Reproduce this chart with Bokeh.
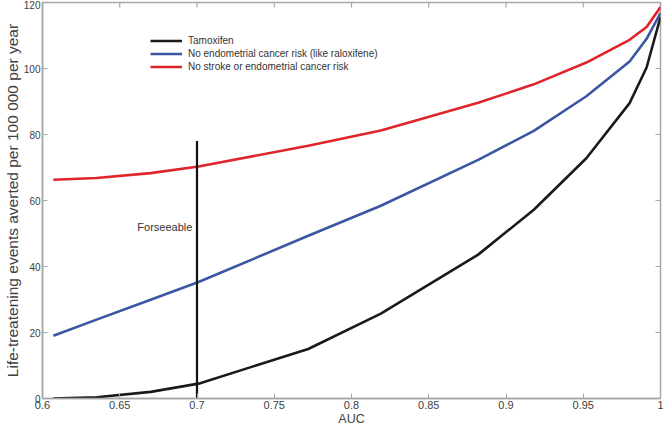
import math
from bokeh.plotting import figure
from bokeh.models import FixedTicker, Legend, LegendItem, ColumnDataSource
from bokeh.core.properties import value
from bokeh.embed import file_html
from bokeh.resources import INLINE

auc = [0.607, 0.635, 0.670, 0.701, 0.772, 0.819, 0.882, 0.918, 0.952, 0.980, 0.991, 1.0]
tamoxifen = [0.0, 0.4, 2.0, 4.5, 15.0, 25.7, 43.6, 57.2, 72.8, 89.5, 100.3, 115.6]
no_endometrial = [19.0, 23.9, 29.9, 35.3, 49.3, 58.4, 72.3, 81.1, 91.6, 102.1, 109.0, 116.8]
no_stroke_endometrial = [66.3, 66.8, 68.3, 70.3, 76.6, 81.2, 89.6, 95.2, 101.8, 108.7, 112.6, 118.6]
series_names = ["Tamoxifen", "No endometrial cancer risk (like raloxifene)", "No stroke or endometrial cancer risk"]

forseeable_x = [0.7, 0.7]
forseeable_y = [0, 78]
forseeable_label = "Forseeable"
forseeable_label_y = 52

x_start, x_end = 0.6, 1.0
y_start, y_end = 0, 120
xticks = [0.6, 0.65, 0.7, 0.75, 0.8, 0.85, 0.9, 0.95, 1.0]
xtick_labels = ["0.6", "0.65", "0.7", "0.75", "0.8", "0.85", "0.9", "0.95", "1"]
yticks = [0, 20, 40, 60, 80, 100, 120]

FONT = "Liberation Sans"
AX_COLOR = "#a6a6a6"
TXT = "#404040"

p = figure(width=663, height=428, x_range=(x_start, x_end), y_range=(y_start, y_end),
           output_backend="svg", toolbar_location=None,
           min_border_left=0, min_border_right=3, min_border_top=2, min_border_bottom=0)
p.xgrid.visible = False
p.ygrid.visible = False
p.outline_line_color = AX_COLOR
p.outline_line_width = 1.5
p.background_fill_color = "white"

for ax in (p.xaxis[0], p.yaxis[0]):
    ax.axis_line_color = AX_COLOR
    ax.axis_line_width = 1.5
    ax.major_tick_line_color = AX_COLOR
    ax.major_tick_in = 5
    ax.major_tick_out = 0
    ax.minor_tick_line_color = None
    ax.major_label_text_font = FONT
    ax.major_label_text_color = TXT
    ax.major_label_standoff = 2
    ax.axis_label_text_font = FONT
    ax.axis_label_text_font_style = "normal"
    ax.axis_label_text_color = TXT
    ax.axis_label_standoff = 0

p.xaxis.ticker = FixedTicker(ticks=xticks)
p.xaxis.major_label_overrides = {t: l for t, l in zip(xticks, xtick_labels)}
p.xaxis.major_label_text_font_size = "11px"
p.xaxis.axis_label = "AUC"
p.xaxis.axis_label_text_font_size = "12.5px"
p.yaxis.ticker = FixedTicker(ticks=yticks)
p.yaxis.major_label_text_font_size = "10px"
p.yaxis.axis_label = "Life-treatening events averted per 100 000 per year"
p.yaxis.axis_label_text_font_size = "15.5px"

# inward tick marks on the top and right edges of the box (clipped to the frame)
p.scatter(x=xticks, y=[y_end] * len(xticks), marker="dash", angle=math.pi / 2, size=10,
          line_color=AX_COLOR, line_width=1.2)
p.scatter(x=[x_end] * len(yticks), y=yticks, marker="dash", size=10,
          line_color=AX_COLOR, line_width=1.2)

src = ColumnDataSource(dict(auc=auc, t=tamoxifen, r=no_endometrial, s=no_stroke_endometrial))
l1 = p.line("auc", "t", source=src, line_color="#1a1a1a", line_width=2.6)
l2 = p.line("auc", "r", source=src, line_color="#3b56a3", line_width=2.6)
l3 = p.line("auc", "s", source=src, line_color="#e0242b", line_width=2.6)

p.line(forseeable_x, forseeable_y, line_color="#111111", line_width=2.2)
p.text(x=[0.697], y=[forseeable_label_y], text=[forseeable_label], text_align="right",
       text_baseline="middle", text_font=value(FONT), text_font_size="11px", text_color="#333333")

legend = Legend(items=[LegendItem(label=series_names[0], renderers=[l1]),
                       LegendItem(label=series_names[1], renderers=[l2]),
                       LegendItem(label=series_names[2], renderers=[l3])],
                location=(108, 325))
legend.border_line_color = None
legend.background_fill_alpha = 0
legend.label_text_font = FONT
legend.label_text_font_size = "10px"
legend.label_text_color = "#333333"
legend.glyph_width = 32
legend.glyph_height = 13
legend.label_height = 13
legend.spacing = 0
legend.padding = 0
legend.margin = 0
legend.label_standoff = 6
p.add_layout(legend)

open("out.html", "w").write(file_html(p, INLINE))
